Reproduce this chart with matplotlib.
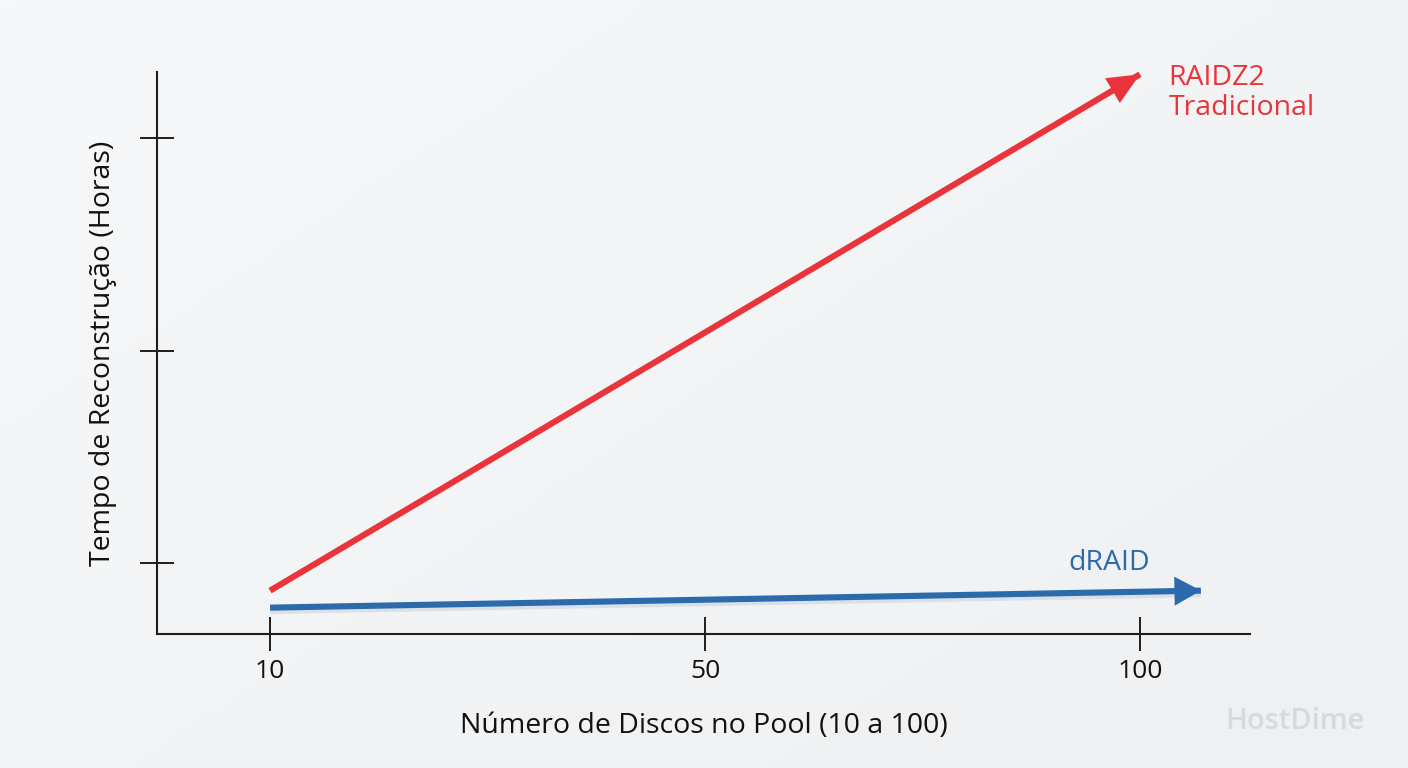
import numpy as np
import matplotlib
matplotlib.use("Agg")
from matplotlib import pyplot as plt
import matplotlib.patheffects as pe

plt.rcParams["font.family"] = ["Open Sans", "DejaVu Sans"]

# Data (x on an evenly spaced category axis: 10, 50, 100)
x_ticks = [0, 1, 2]
x_labels = ["10", "50", "100"]
y_ticks = [1, 2, 3]
raidz2_x = [0, 2]
raidz2_y = [0.87, 3.30]
draid_x = [0, 2.14]
draid_y = [0.79, 0.87]

red = "#e8343a"
blue = "#2b6aab"

fig = plt.figure(figsize=(14.08, 7.68), dpi=100)
fig.patch.set_facecolor("#f3f4f6")

# soft background gradient
bg = fig.add_axes([0, 0, 1, 1], zorder=-10)
gx, gy = np.meshgrid(np.linspace(0, 1, 200), np.linspace(0, 1, 100))
grad = 0.55 * gx + 0.45 * gy
bg.imshow(grad, cmap=matplotlib.colors.LinearSegmentedColormap.from_list("g", ["#f7f8f9", "#eef0f2"]),
          aspect="auto", extent=[0, 1, 0, 1], origin="upper")
bg.axis("off")

ax = fig.add_axes([0.1115, 0.1745, 0.7763, 0.7318])
ax.set_facecolor("none")
ax.set_xlim(-0.26, 2.253)
ax.set_ylim(0.666, 3.311)

for s in ["top", "right"]:
    ax.spines[s].set_visible(False)
for s in ["left", "bottom"]:
    ax.spines[s].set_linewidth(1.5)
    ax.spines[s].set_color("#1e1e1e")

ax.set_xticks(x_ticks)
ax.set_xticklabels(x_labels)
ax.set_yticks(y_ticks)
ax.set_yticklabels([])
ax.tick_params(axis="both", direction="inout", length=24, width=1.4, color="#1e1e1e",
               labelsize=19, labelcolor="#111111", pad=10)
ax.tick_params(axis="x", pad=6)

ax.set_xlabel("Número de Discos no Pool (10 a 100)", fontsize=20.5, color="#111111", labelpad=20)
ax.set_ylabel("Tempo de Reconstrução (Horas)", fontsize=20.5, color="#111111", labelpad=7)

shadow = [pe.SimpleLineShadow(offset=(0, -2.5), shadow_color="#8aa0b8", alpha=0.22), pe.Normal()]


def arrow(xs, ys, color, hl, hw, ms, lw, effects=None):
    # body
    ax.plot(xs, ys, color=color, lw=lw, solid_capstyle="butt", path_effects=effects)
    # filled head only
    ax.annotate("", xy=(xs[1], ys[1]), xytext=(xs[0], ys[0]),
                arrowprops=dict(arrowstyle=f"-|>,head_length={hl},head_width={hw}",
                                color=color, lw=0.01, shrinkA=0, shrinkB=0,
                                mutation_scale=ms))


arrow(raidz2_x, raidz2_y, red, 1.0, 0.45, 23, 4.4)
arrow(draid_x, draid_y, blue, 1.0, 0.55, 19, 4.4, shadow)

ax.text(2.065, raidz2_y[1] + 0.05, "RAIDZ2\nTradicional", color=red, fontsize=20.5,
        ha="left", va="top", linespacing=1.1)
ax.text(1.93, 1.0, "dRAID", color=blue, fontsize=20.5, ha="center", va="center")

fig.text(0.92, 0.06, "HostDime", color="#d6d9de", fontsize=21, fontweight="semibold",
         ha="center", va="center")

fig.savefig("out.png", dpi=100, facecolor=fig.get_facecolor())
